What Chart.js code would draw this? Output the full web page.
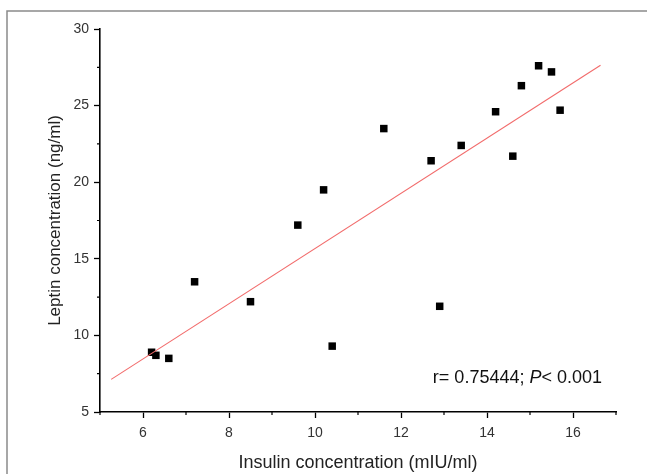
<!DOCTYPE html>
<html>
<head>
<meta charset="utf-8">
<script src="https://cdn.jsdelivr.net/npm/chart.js@4/dist/chart.umd.min.js"></script>
<style>
  html, body { margin: 0; padding: 0; background: #fff; }
  #wrap { width: 647px; height: 474px; position: relative; }
</style>
</head>
<body>
<div id="wrap"><canvas id="chart" width="647" height="474"></canvas></div>
<script>
// insulin (x) vs leptin (y)
const insulin = [6.2, 6.3, 6.6, 7.2, 8.5, 9.6, 10.2, 10.4, 11.6, 12.7, 12.9, 13.4, 14.2, 14.6, 14.8, 15.2, 15.5, 15.7];
const leptin  = [8.9, 8.7, 8.5, 13.5, 12.2, 17.2, 19.5, 9.3, 23.5, 21.4, 11.9, 22.4, 24.6, 21.7, 26.3, 27.6, 27.2, 24.7];

// fitted line end points
const fitX = [5.26, 16.64];
const fitY = [7.13, 27.63];

const xMajor = [6, 8, 10, 12, 14, 16];
const xMinor = [5, 7, 9, 11, 13, 15, 17];
const yMajor = [5, 10, 15, 20, 25, 30];
const yMinor = [7.5, 12.5, 17.5, 22.5, 27.5];

const statText = ['r= 0.75444; ', 'P', '< 0.001'];

const FONT = 'Liberation Sans, Arial, sans-serif';

const framePlugin = {
  id: 'frame',
  beforeDraw(chart) {
    const c = chart.ctx;
    c.save();
    c.fillStyle = '#fff';
    c.fillRect(0, 0, chart.width, chart.height);
    c.strokeStyle = '#8a8a8a';
    c.lineWidth = 1.5;
    c.beginPath();
    c.moveTo(7, chart.height);
    c.lineTo(7, 11);
    c.lineTo(chart.width, 11);
    c.stroke();
    c.restore();
  }
};

const minorTicks = {
  id: 'minorTicks',
  afterDraw(chart) {
    const c = chart.ctx;
    const xs = chart.scales.x, ys = chart.scales.y;
    c.save();
    c.strokeStyle = '#000';
    c.lineWidth = 1.2;
    c.beginPath();
    xMinor.forEach(v => {
      const px = xs.getPixelForValue(v);
      c.moveTo(px, xs.top);
      c.lineTo(px, xs.top + 3);
    });
    yMinor.forEach(v => {
      const py = ys.getPixelForValue(v);
      c.moveTo(ys.right, py);
      c.lineTo(ys.right - 3, py);
    });
    c.stroke();

    // r / P annotation
    const area = chart.chartArea;
    const normal = '18px ' + FONT;
    const italic = 'italic 18px ' + FONT;
    c.font = normal;
    const w0 = c.measureText(statText[0]).width;
    const w2 = c.measureText(statText[2]).width;
    c.font = italic;
    const w1 = c.measureText(statText[1]).width;
    let x = area.right - 14 - (w0 + w1 + w2);
    const y = ys.getPixelForValue(7.2);
    c.fillStyle = '#111';
    c.textBaseline = 'middle';
    c.font = normal; c.fillText(statText[0], x, y); x += w0;
    c.font = italic; c.fillText(statText[1], x, y); x += w1;
    c.font = normal; c.fillText(statText[2], x, y);
    c.restore();
  }
};

new Chart(document.getElementById('chart').getContext('2d'), {
  type: 'scatter',
  data: {
    datasets: [
      {
        label: 'fit',
        type: 'line',
        data: fitX.map((v, i) => ({ x: v, y: fitY[i] })),
        borderColor: '#f26b6b',
        borderWidth: 1.1,
        pointRadius: 0,
        fill: false
      },
      {
        label: 'subjects',
        data: insulin.map((v, i) => ({ x: v, y: leptin[i] })),
        pointStyle: 'rect',
        pointRadius: 5.3,
        pointHoverRadius: 5.3,
        backgroundColor: '#000',
        borderColor: '#000',
        borderWidth: 0
      }
    ]
  },
  options: {
    responsive: false,
    animation: false,
    devicePixelRatio: 1,
    layout: { padding: { left: 0, top: 29, right: 31, bottom: 0 } },
    plugins: { legend: { display: false }, tooltip: { enabled: false } },
    scales: {
      x: {
        type: 'linear',
        min: 5, max: 17,
        afterFit(scale) { scale.height = 62; },
        afterBuildTicks(scale) { scale.ticks = xMajor.map(v => ({ value: v })); },
        border: { display: true, color: '#000', width: 1.6 },
        grid: { drawOnChartArea: false, drawTicks: true, tickLength: 6, tickWidth: 1.3, tickColor: '#000' },
        ticks: { color: '#333', padding: 7, font: { family: FONT, size: 14 }, maxRotation: 0 },
        title: { display: true, text: 'Insulin concentration (mIU/ml)', color: '#222', font: { family: FONT, size: 18 }, padding: { top: 10, bottom: 0 } }
      },
      y: {
        type: 'linear',
        min: 5, max: 30,
        afterFit(scale) { scale.width = 100; },
        afterBuildTicks(scale) { scale.ticks = yMajor.map(v => ({ value: v })); },
        border: { display: true, color: '#000', width: 1.6 },
        grid: { drawOnChartArea: false, drawTicks: true, tickLength: 6, tickWidth: 1.3, tickColor: '#000' },
        ticks: { color: '#333', padding: 5, font: { family: FONT, size: 14 } },
        title: { display: true, text: 'Leptin concentration (ng/ml)', color: '#222', font: { family: FONT, size: 17 }, padding: { top: 45, bottom: 0 } }
      }
    }
  },
  plugins: [framePlugin, minorTicks]
});
</script>
</body>
</html>
